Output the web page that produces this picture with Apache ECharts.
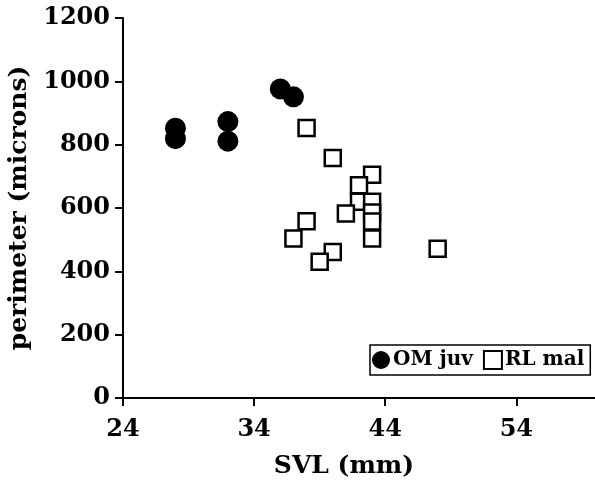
<!DOCTYPE html>
<html>
<head>
<meta charset="utf-8">
<script src="https://cdn.jsdelivr.net/npm/echarts@6/dist/echarts.min.js"></script>
<style>
  html, body { margin: 0; padding: 0; background: #fff; }
  #chart { width: 595px; height: 495px; }
</style>
</head>
<body>
<div id="chart"></div>
<script>
// data: [SVL (mm), perimeter (microns)]
var omJuv = [
  [28, 852], [28, 819],
  [32, 873], [32, 811],
  [36, 976], [37, 951]
];
var rlMal = [
  [38, 853], [40, 758], [43, 705], [42, 672], [42, 620],
  [43, 620], [43, 586], [43, 557], [43, 504], [41, 583],
  [38, 558], [37, 504], [40, 461], [39, 430], [48, 471]
];
var seriesNames = ['OM juv', 'RL mal'];

var font = 'DejaVu Serif';
var chart = echarts.init(document.getElementById('chart'));
var option = {
  animation: false,
  backgroundColor: '#fff',
  grid: { left: 123, top: 18, right: 0, bottom: 97, containLabel: false, outerBoundsMode: 'none' },
  legend: {
    left: 370, top: 345,
    orient: 'horizontal',
    borderColor: '#000', borderWidth: 1.5,
    padding: [5, 6, 5, 2],
    itemGap: 10, itemWidth: 18, itemHeight: 18,
    textStyle: { fontFamily: font, fontWeight: 'bold', fontSize: 20, color: '#000', padding: [0, 0, 0, -2] },
    data: seriesNames
  },
  xAxis: {
    type: 'value', min: 24, max: 60, interval: 10,
    name: 'SVL (mm)', nameLocation: 'middle', nameGap: 56,
    nameTextStyle: { fontFamily: font, fontWeight: 'bold', fontSize: 25, color: '#000', padding: [0, 30, 0, 0] },
    axisLine: { onZero: false, lineStyle: { color: '#000', width: 2 } },
    axisTick: { show: true, inside: false, length: 8, lineStyle: { color: '#000', width: 2 } },
    axisLabel: { margin: 20, fontFamily: font, fontWeight: 'bold', fontSize: 24, color: '#000',
      showMaxLabel: false },
    splitLine: { show: false }
  },
  yAxis: {
    type: 'value', min: 0, max: 1200, interval: 200,
    name: 'perimeter (microns)', nameLocation: 'middle', nameGap: 90, nameRotate: 90,
    nameTextStyle: { fontFamily: font, fontWeight: 'bold', fontSize: 25, color: '#000' },
    axisLine: { show: true, onZero: false, lineStyle: { color: '#000', width: 2 } },
    axisTick: { show: true, inside: false, length: 8, lineStyle: { color: '#000', width: 2 } },
    axisLabel: { margin: 13, fontFamily: font, fontWeight: 'bold', fontSize: 24, color: '#000',
      formatter: function (v) { return String(v); } },
    splitLine: { show: false }
  },
  series: [
    {
      name: seriesNames[0], type: 'scatter', symbol: 'circle', symbolSize: 21,
      itemStyle: { color: '#000', opacity: 1 },
      data: omJuv
    },
    {
      name: seriesNames[1], type: 'scatter', symbol: 'rect', symbolSize: 16,
      itemStyle: { color: '#fff', borderColor: '#000', borderWidth: 2.5, opacity: 1 },
      data: rlMal
    }
  ]
};
chart.setOption(option);
</script>
</body>
</html>
